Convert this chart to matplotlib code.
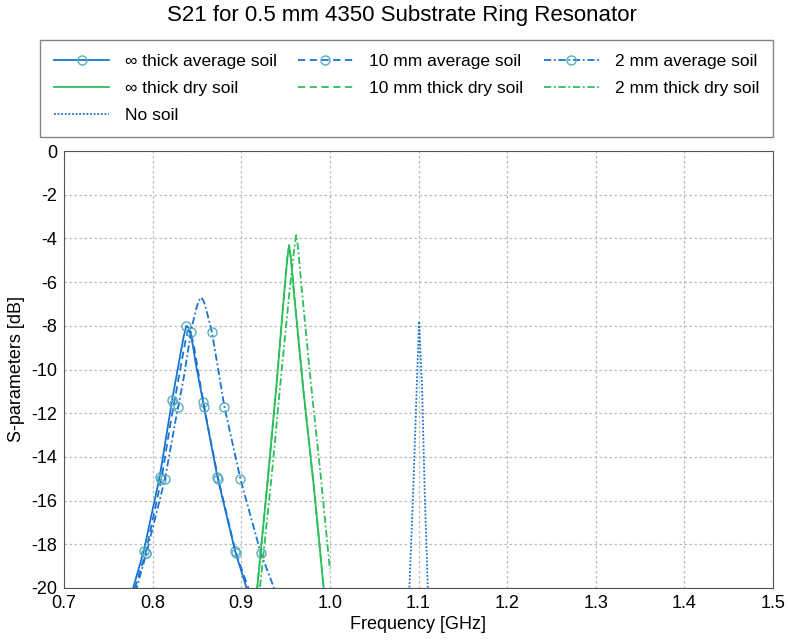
import matplotlib
matplotlib.use("Agg")
import matplotlib.pyplot as plt

plt.rcParams['font.family'] = ['Liberation Sans', 'DejaVu Sans']
plt.rcParams['axes.unicode_minus'] = False

# valeurs (fréquence en GHz, S21 en dB)
freq_inf_avg = [0.770, 0.778, 0.790, 0.808, 0.818, 0.822, 0.830, 0.835, 0.838, 0.841, 0.845, 0.849, 0.857, 0.873, 0.893, 0.906, 0.912]
s21_inf_avg = [-21.6, -20.0, -18.3, -14.9, -12.4, -11.4, -9.6, -8.5, -8.0, -8.1, -8.8, -9.8, -11.5, -14.9, -18.3, -20.0, -20.9]
mark_inf_avg = [2, 3, 5, 8, 12, 13, 14]

freq_10_avg = [0.772, 0.780, 0.792, 0.810, 0.820, 0.824, 0.832, 0.837, 0.840, 0.843, 0.847, 0.851, 0.858, 0.874, 0.894, 0.908, 0.914]
s21_10_avg = [-21.6, -20.0, -18.4, -15.0, -12.5, -11.6, -9.8, -8.7, -8.2, -8.3, -9.0, -10.0, -11.7, -15.0, -18.4, -20.0, -20.9]
mark_10_avg = [2, 3, 5, 9, 12, 13, 14]

freq_2_avg = [0.775, 0.782, 0.793, 0.814, 0.826, 0.829, 0.835, 0.844, 0.850, 0.853, 0.855, 0.858, 0.862, 0.867, 0.881, 0.899, 0.922, 0.937, 0.942]
s21_2_avg = [-21.5, -20.0, -18.4, -15.0, -12.3, -11.7, -10.4, -8.1, -7.1, -6.8, -6.7, -6.9, -7.5, -8.3, -11.7, -15.0, -18.4, -20.0, -20.7]
mark_2_avg = [2, 3, 5, 13, 14, 15, 16]

freq_inf_dry = [0.916, 0.918, 0.930, 0.940, 0.948, 0.952, 0.954, 0.956, 0.960, 0.970, 0.982, 0.993, 0.995]
s21_inf_dry = [-20.7, -20.0, -15.0, -10.6, -6.7, -4.9, -4.3, -4.9, -6.7, -10.9, -15.4, -20.0, -20.8]

freq_10_dry = [0.916, 0.918, 0.930, 0.940, 0.948, 0.952, 0.954, 0.956, 0.960, 0.970, 0.982, 0.993, 0.995]
s21_10_dry = [-20.7, -20.0, -15.0, -10.6, -6.7, -4.9, -4.35, -4.9, -6.7, -10.9, -15.4, -20.0, -20.8]

freq_2_dry = [0.919, 0.921, 0.934, 0.945, 0.955, 0.960, 0.962, 0.964, 0.968, 0.978, 0.990, 1.000]
s21_2_dry = [-20.6, -20.0, -15.0, -10.3, -6.2, -4.4, -3.85, -4.4, -6.2, -10.4, -15.0, -19.15]

freq_no_soil = [1.088, 1.0897, 1.094, 1.098, 1.1007, 1.104, 1.107, 1.1105, 1.112]
s21_no_soil = [-20.8, -20.0, -15.6, -10.8, -7.8, -10.8, -15.6, -20.0, -20.8]

labels = ['\u221e thick average soil', '10 mm average soil', '2 mm average soil',
          '\u221e thick dry soil', '10 mm thick dry soil', '2 mm thick dry soil', 'No soil']

bleu = '#1a74d2'
vert = '#2dbe5a'
marq = dict(marker='o', markersize=6.5, markerfacecolor='none', markeredgecolor='#5aaec0', markeredgewidth=1.0)

fig = plt.figure(figsize=(7.88, 6.42), dpi=100)
ax = fig.add_axes([64 / 788, 1 - 588 / 642, 709 / 788, 437 / 642])

lw = 1.3
l1, = ax.plot(freq_inf_avg, s21_inf_avg, color=bleu, lw=lw, ls='-', markevery=mark_inf_avg, **marq)
l2, = ax.plot(freq_10_avg, s21_10_avg, color=bleu, lw=lw, ls=(0, (4, 2.5)), markevery=mark_10_avg, **marq)
l3, = ax.plot(freq_2_avg, s21_2_avg, color=bleu, lw=lw, ls=(0, (4, 1.5, 1, 1.5)), markevery=mark_2_avg, **marq)
l5, = ax.plot(freq_10_dry, s21_10_dry, color=vert, lw=lw, ls=(0, (4, 2.5)))
l4, = ax.plot(freq_inf_dry, s21_inf_dry, color=vert, lw=lw, ls='-')
l6, = ax.plot(freq_2_dry, s21_2_dry, color=vert, lw=lw, ls=(0, (4, 1.5, 1, 1.5)))
l7, = ax.plot(freq_no_soil, s21_no_soil, color=bleu, lw=lw, ls=(0, (1, 1)))

ax.set_xlim(0.7, 1.5)
ax.set_ylim(-20, 0)
ax.set_xticks([0.7, 0.8, 0.9, 1.0, 1.1, 1.2, 1.3, 1.4, 1.5])
ax.set_yticks(range(-20, 1, 2))
ax.grid(True, color='#bbbbbb', ls=(0, (2, 2)), lw=0.9)
ax.tick_params(length=0, labelsize=13, pad=5)
for sp in ax.spines.values():
    sp.set_color('#555555')
ax.set_xlabel('Frequency [GHz]', fontsize=13, labelpad=3)
ax.set_ylabel('S-parameters [dB]', fontsize=13, labelpad=4)

fig.text(402 / 788, 1 - 16 / 642, 'S21 for 0.5 mm 4350 Substrate Ring Resonator',
         ha='center', va='center', fontsize=16)

handles = [l1, l4, l7, l2, l5, l3, l6]
leg_labels = [labels[0], labels[3], labels[6], labels[1], labels[4], labels[2], labels[5]]
leg = fig.legend(handles, leg_labels, loc='upper left', ncol=3, mode='expand',
                 bbox_to_anchor=(40 / 788, 1 - 40 / 642, 733 / 788, 0),
                 fontsize=12.5, frameon=True, fancybox=False, handlelength=3.2,
                 handletextpad=0.9, labelspacing=0.68, borderaxespad=0, borderpad=0.8,
                 columnspacing=1.0)
leg.get_frame().set_edgecolor('#666666')
leg.get_frame().set_linewidth(1.0)

plt.savefig('out.png', dpi=100)
